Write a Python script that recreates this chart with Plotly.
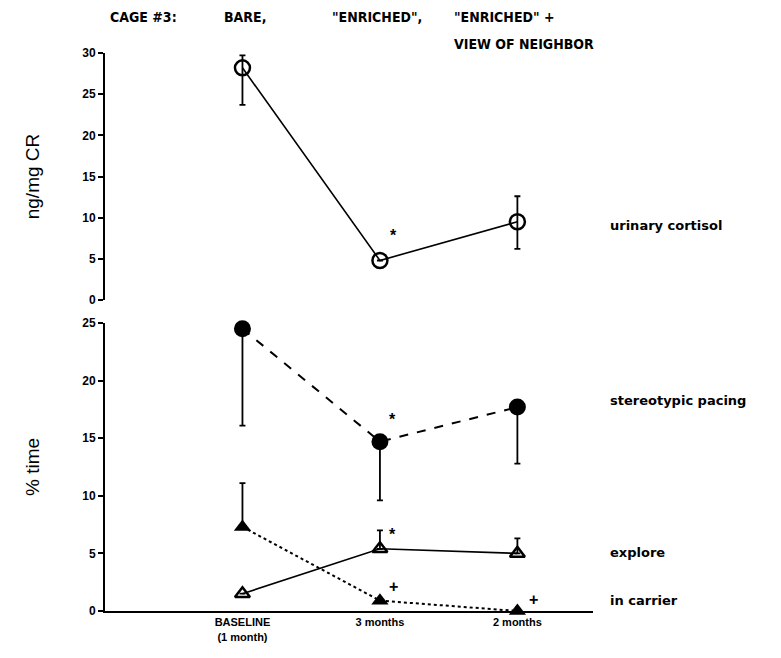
import plotly.graph_objects as go

x_pos = [1, 2, 3]
x_labels = ["BASELINE<br>(1 month)", "3 months", "2 months"]

cortisol = [28.2, 4.8, 9.5]
cortisol_up = [1.5, 0, 3.1]
cortisol_dn = [4.5, 0, 3.3]

pacing = [24.5, 14.7, 17.7]
pacing_up = [0, 0, 0]
pacing_dn = [8.4, 5.1, 4.9]

explore = [1.5, 5.4, 5.0]
explore_up = [0, 1.6, 1.3]
explore_dn = [0, 0, 0]

carrier = [7.3, 0.9, 0.0]
carrier_up = [3.8, 0, 0]
carrier_dn = [0, 0, 0]

series_labels = ["urinary cortisol", "stereotypic pacing", "explore", "in carrier"]
header = ["CAGE #3:", "BARE,", "\"ENRICHED\",", "\"ENRICHED\" +", "VIEW OF NEIGHBOR"]

# plot-area geometry in pixels (used only to place paper-referenced text)
L, R, T, B = 105, 593, 53, 611
W, H = R - L, B - T

def px_x(px):
    return (px - L) / W

def px_y(py):
    return (B - py) / H

fig = go.Figure()

def err(up, dn):
    return dict(type="data", symmetric=False, array=up, arrayminus=dn,
                color="black", thickness=1.8, width=3)

fig.add_trace(go.Scatter(x=x_pos, y=cortisol, mode="lines+markers", xaxis="x", yaxis="y2",
    line=dict(color="black", width=1.6),
    marker=dict(symbol="circle-open", size=15, color="black", line=dict(width=2.5)),
    error_y=err(cortisol_up, cortisol_dn), showlegend=False, cliponaxis=False))

fig.add_trace(go.Scatter(x=x_pos, y=pacing, mode="lines+markers", xaxis="x", yaxis="y",
    line=dict(color="black", width=2, dash="dash"),
    marker=dict(symbol="circle", size=17, color="black"),
    error_y=err(pacing_up, pacing_dn), showlegend=False, cliponaxis=False))

fig.add_trace(go.Scatter(x=x_pos, y=carrier, mode="lines+markers", xaxis="x", yaxis="y",
    line=dict(color="black", width=2, dash="dot"),
    marker=dict(symbol="triangle-up", size=15, color="black"),
    error_y=err(carrier_up, carrier_dn), showlegend=False, cliponaxis=False))

fig.add_trace(go.Scatter(x=x_pos, y=explore, mode="lines+markers", xaxis="x", yaxis="y",
    line=dict(color="black", width=1.6),
    marker=dict(symbol="triangle-up-open", size=13, color="black", line=dict(width=2.5)),
    error_y=err(explore_up, explore_dn), showlegend=False, cliponaxis=False))

tf = dict(family="Liberation Sans", size=12, color="black", weight="bold")
title_font = dict(family="Liberation Sans", size=19, color="black")

fig.update_layout(
    width=781, height=658,
    margin=dict(l=L, r=781 - R, t=T, b=658 - B),
    paper_bgcolor="white", plot_bgcolor="white",
    xaxis=dict(domain=[0, 1], range=[0, 3.55], tickvals=x_pos, ticktext=x_labels,
               showline=True, linecolor="black", linewidth=2, ticks="", showgrid=False,
               zeroline=False, tickfont=dict(family="Liberation Sans", size=11, color="black", weight="bold")),
    yaxis=dict(domain=[0, px_y(323)], range=[0, 25], tickvals=[0, 5, 10, 15, 20, 25],
               showline=True, linecolor="black", linewidth=2, ticks="outside", ticklen=5,
               tickwidth=2, tickcolor="black", showgrid=False, zeroline=False, tickfont=tf,
               title=dict(text="% time", font=title_font, standoff=38)),
    yaxis2=dict(domain=[px_y(300), 1], range=[0, 30], tickvals=[0, 5, 10, 15, 20, 25, 30],
                anchor="x", showline=True, linecolor="black", linewidth=2, ticks="outside", ticklen=5,
                tickwidth=2, tickcolor="black", showgrid=False, zeroline=False, tickfont=tf,
                title=dict(text="ng/mg CR", font=title_font, standoff=38)),
)

ann_font = dict(family="DejaVu Sans", size=13, color="black", weight="bold")
label_py = [225, 400, 552, 600]
for t, py in zip(series_labels, label_py):
    fig.add_annotation(x=px_x(608), y=px_y(py), xref="paper", yref="paper", text=t,
                       showarrow=False, xanchor="left", yanchor="middle", font=ann_font)

sym_font = dict(family="Liberation Sans", size=16, color="black", weight="bold")
fig.add_annotation(x=2.1, y=cortisol[1] + 3.0, xref="x", yref="y2", text="*", showarrow=False, font=sym_font)
fig.add_annotation(x=2.09, y=pacing[1] + 1.9, xref="x", yref="y", text="*", showarrow=False, font=sym_font)
fig.add_annotation(x=2.09, y=explore[1] + 1.2, xref="x", yref="y", text="*", showarrow=False, font=sym_font)
fig.add_annotation(x=2.1, y=carrier[1] + 1.2, xref="x", yref="y", text="+", showarrow=False, font=sym_font)
fig.add_annotation(x=3.12, y=carrier[2] + 1.0, xref="x", yref="y", text="+", showarrow=False, font=sym_font)

hfont = dict(family="DejaVu Sans Condensed, Liberation Sans", size=14, color="black", weight="bold")
hpos = [(108, 17), (222, 17), (330, 17), (452, 17), (452, 44)]
for t, (px, py) in zip(header, hpos):
    fig.add_annotation(x=px_x(px), y=px_y(py), xref="paper", yref="paper", text=t,
                       showarrow=False, xanchor="left", yanchor="middle", align="left", font=hfont)

fig.write_html("out.html")
